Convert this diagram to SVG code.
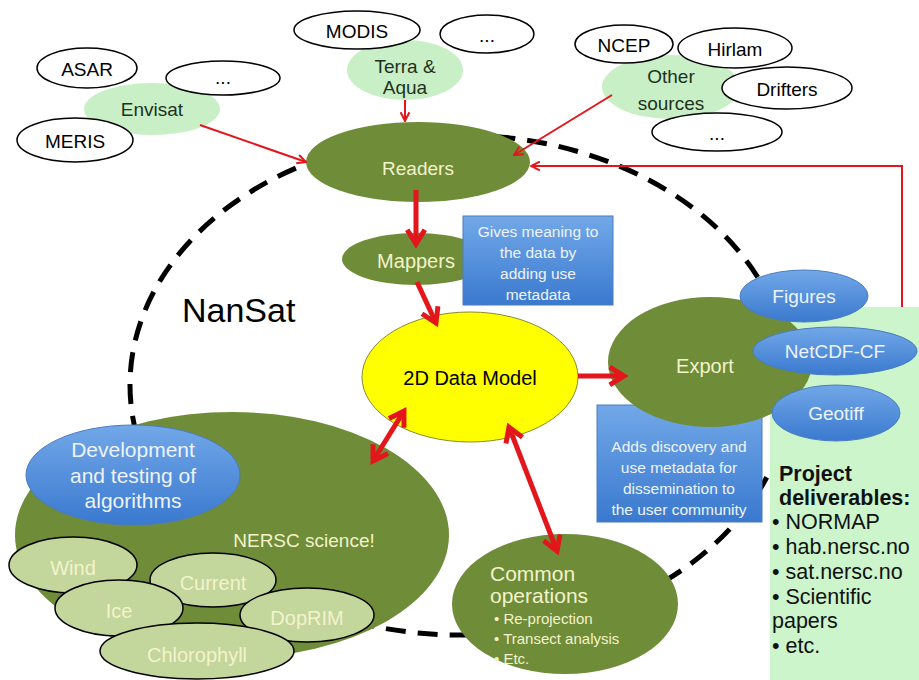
<svg xmlns="http://www.w3.org/2000/svg" width="919" height="680" viewBox="0 0 919 680">
<defs>
<linearGradient id="blueG" x1="0" y1="0" x2="0" y2="1">
<stop offset="0" stop-color="#72a8e8"/>
<stop offset="1" stop-color="#3a79cf"/>
</linearGradient>
<marker id="ah" viewBox="0 0 10 10" refX="9" refY="5" markerWidth="11" markerHeight="11" markerUnits="userSpaceOnUse" orient="auto">
<path d="M1,1 L9,5 L1,9" fill="none" stroke="#e3161c" stroke-width="1.8"/>
</marker>
<marker id="ahT" viewBox="0 0 20 20" refX="16" refY="10" markerWidth="22" markerHeight="22" markerUnits="userSpaceOnUse" orient="auto-start-reverse">
<path d="M3,2 L16,10 L3,18" fill="none" stroke="#e3161c" stroke-width="4.5"/>
</marker>
<style>
text{font-family:"Liberation Sans","Open Sans",Arial,sans-serif;}
.src{fill:#ffffff;stroke:#000;stroke-width:1.5;}
.lg{fill:#c9efc6;stroke:none;}
.dg{fill:#6f8c38;stroke:none;}
.sm{fill:#c3d69b;stroke:#000;stroke-width:1.5;}
.bl{fill:url(#blueG);stroke:#4a7cc0;stroke-width:1;}
.tb{fill:#000;font-size:19px;text-anchor:middle;}
.tg{fill:#1e321e;font-size:19px;text-anchor:middle;}
.tc{fill:#f3f3cc;text-anchor:middle;}
.tw{fill:#eef3fb;text-anchor:middle;}
.dl{font-size:21.5px;fill:#111;}
.thin{fill:none;stroke:#e3161c;stroke-width:2;marker-end:url(#ah);}
.thick{fill:none;stroke:#e3161c;stroke-width:5;marker-end:url(#ahT);}
.dbl{fill:none;stroke:#e3161c;stroke-width:5;marker-end:url(#ahT);marker-start:url(#ahT);}
</style>
</defs>
<rect width="919" height="680" fill="#ffffff"/>

<g id="nansat-boundary">
<ellipse cx="460" cy="385" rx="330" ry="250" fill="none" stroke="#000" stroke-width="5" stroke-dasharray="20 12"/>
<text x="182" y="322" style="font-size:34px;fill:#000;">NanSat</text>
</g>

<g id="deliverables">
<rect x="770" y="307" width="160" height="380" fill="#ccf5cc"/>
<text class="dl" x="779" y="481" style="font-weight:bold;">Project</text>
<text class="dl" x="779" y="505" style="font-weight:bold;">deliverables:</text>
<text class="dl" x="772" y="529">• NORMAP</text>
<text class="dl" x="772" y="554">• hab.nersc.no</text>
<text class="dl" x="772" y="579">• sat.nersc.no</text>
<text class="dl" x="772" y="604">• Scientific</text>
<text class="dl" x="772" y="628">papers</text>
<text class="dl" x="772" y="653">• etc.</text>
</g>

<g id="readers">
<ellipse class="dg" cx="418" cy="162" rx="112" ry="40"/>
<text class="tc" x="418" y="175" style="font-size:19px;">Readers</text>
</g>

<g id="mappers">
<ellipse class="dg" cx="416" cy="259" rx="74" ry="26"/>
<text class="tc" x="416" y="268" style="font-size:20px;">Mappers</text>
</g>

<g id="note-mappers">
<rect class="bl" x="463" y="216" width="150" height="89"/>
<text class="tw" x="538" y="237" style="font-size:15.5px;">Gives meaning to</text>
<text class="tw" x="538" y="258" style="font-size:15.5px;">the data by</text>
<text class="tw" x="538" y="279" style="font-size:15.5px;">adding use</text>
<text class="tw" x="538" y="300" style="font-size:15.5px;">metadata</text>
</g>

<g id="data-model">
<ellipse cx="470" cy="377" rx="108" ry="65" fill="#ffff00" stroke="#8a8a30" stroke-width="1"/>
<text x="470" y="385" style="font-size:20px;fill:#000;text-anchor:middle;">2D Data Model</text>
</g>

<g id="note-export">
<rect class="bl" x="597" y="405" width="165" height="117"/>
<text class="tw" x="679" y="452" style="font-size:15.5px;">Adds discovery and</text>
<text class="tw" x="679" y="473" style="font-size:15.5px;">use metadata for</text>
<text class="tw" x="679" y="494" style="font-size:15.5px;">dissemination to</text>
<text class="tw" x="679" y="515" style="font-size:15.5px;">the user community</text>
</g>

<g id="export">
<ellipse class="dg" cx="710" cy="362" rx="102" ry="65"/>
<text class="tc" x="705" y="373" style="font-size:20px;">Export</text>
</g>

<g id="figures">
<ellipse class="bl" cx="804" cy="296" rx="64" ry="26"/>
<text class="tw" x="804" y="303" style="font-size:19px;">Figures</text>
</g>
<g id="netcdf">
<ellipse class="bl" cx="835" cy="351" rx="82" ry="24"/>
<text class="tw" x="835" y="358" style="font-size:19px;">NetCDF-CF</text>
</g>
<g id="geotiff">
<ellipse class="bl" cx="836" cy="413" rx="64" ry="28"/>
<text class="tw" x="836" y="420" style="font-size:19px;">Geotiff</text>
</g>

<g id="nersc-science">
<ellipse class="dg" cx="232" cy="535" rx="217" ry="123"/>
<text class="tc" x="304" y="547" style="font-size:19px;">NERSC science!</text>
</g>

<g id="development">
<ellipse class="bl" cx="133" cy="475" rx="107" ry="50"/>
<text class="tw" x="133" y="457" style="font-size:21px;">Development</text>
<text class="tw" x="133" y="483" style="font-size:21px;">and testing of</text>
<text class="tw" x="133" y="508" style="font-size:21px;">algorithms</text>
</g>

<g id="wind">
<ellipse class="sm" cx="73" cy="565" rx="64" ry="28"/>
<text class="tc" x="73" y="575" style="font-size:20px;">Wind</text>
</g>
<g id="current">
<ellipse class="sm" cx="213" cy="580" rx="63" ry="27"/>
<text class="tc" x="213" y="590" style="font-size:20px;">Current</text>
</g>
<g id="ice">
<ellipse class="sm" cx="119" cy="608" rx="64" ry="28"/>
<text class="tc" x="119" y="618" style="font-size:20px;">Ice</text>
</g>
<g id="doprim">
<ellipse class="sm" cx="307" cy="615" rx="67" ry="27"/>
<text class="tc" x="307" y="625" style="font-size:20px;">DopRIM</text>
</g>
<g id="chlorophyll">
<ellipse class="sm" cx="197" cy="651" rx="97" ry="28"/>
<text class="tc" x="197" y="662" style="font-size:20px;">Chlorophyll</text>
</g>

<g id="common-operations">
<ellipse class="dg" cx="565" cy="604" rx="113" ry="70"/>
<text x="490" y="581" style="font-size:21px;fill:#f3f3cc;">Common</text>
<text x="490" y="603" style="font-size:21px;fill:#f3f3cc;">operations</text>
<text x="494" y="624" style="font-size:15px;fill:#f3f3cc;">• Re-projection</text>
<text x="494" y="644" style="font-size:15px;fill:#f3f3cc;">• Transect analysis</text>
<text x="494" y="664" style="font-size:15px;fill:#f3f3cc;">• Etc.</text>
</g>

<g id="envisat">
<ellipse class="lg" cx="152" cy="109" rx="68" ry="26"/>
<text class="tg" x="152" y="116">Envisat</text>
</g>
<g id="asar">
<ellipse class="src" cx="87" cy="68" rx="50" ry="20"/>
<text class="tb" x="87" y="76">ASAR</text>
</g>
<g id="envisat-more">
<ellipse class="src" cx="223" cy="78" rx="57" ry="17"/>
<text class="tb" x="223" y="84">...</text>
</g>
<g id="meris">
<ellipse class="src" cx="75" cy="140" rx="58" ry="22"/>
<text class="tb" x="75" y="148">MERIS</text>
</g>

<g id="terra-aqua">
<ellipse class="lg" cx="405" cy="70" rx="58" ry="30"/>
<text class="tg" x="405" y="73">Terra &amp;</text>
<text class="tg" x="405" y="94">Aqua</text>
</g>
<g id="modis">
<ellipse class="src" cx="357" cy="30" rx="63" ry="19"/>
<text class="tb" x="357" y="38">MODIS</text>
</g>
<g id="terra-more">
<ellipse class="src" cx="487" cy="34" rx="47" ry="19"/>
<text class="tb" x="487" y="42">...</text>
</g>

<g id="other-sources">
<ellipse class="lg" cx="671" cy="87" rx="69" ry="32"/>
<text class="tg" x="671" y="83">Other</text>
<text class="tg" x="671" y="110">sources</text>
</g>
<g id="ncep">
<ellipse class="src" cx="624" cy="44" rx="49" ry="19"/>
<text class="tb" x="624" y="52">NCEP</text>
</g>
<g id="hirlam">
<ellipse class="src" cx="735" cy="48" rx="57" ry="20"/>
<text class="tb" x="735" y="56">Hirlam</text>
</g>
<g id="drifters">
<ellipse class="src" cx="787" cy="88" rx="65" ry="21"/>
<text class="tb" x="787" y="96">Drifters</text>
</g>
<g id="other-more">
<ellipse class="src" cx="717" cy="132" rx="65" ry="19"/>
<text class="tb" x="717" y="140">...</text>
</g>

<g id="connectors">
<line class="thin" x1="200" y1="125" x2="306" y2="162"/>
<line class="thin" x1="405" y1="100" x2="405" y2="121"/>
<line class="thin" x1="612" y1="95" x2="514" y2="155"/>
<polyline class="thin" points="902,307 902,166 531,166"/>
<line class="thick" x1="416" y1="190" x2="416" y2="244"/>
<line class="thick" x1="417" y1="282" x2="436" y2="323"/>
<line class="thick" x1="578" y1="376" x2="624" y2="376"/>
<line class="dbl" x1="404" y1="411" x2="373" y2="461"/>
<line class="dbl" x1="509" y1="427" x2="557" y2="551"/>
</g>
</svg>
